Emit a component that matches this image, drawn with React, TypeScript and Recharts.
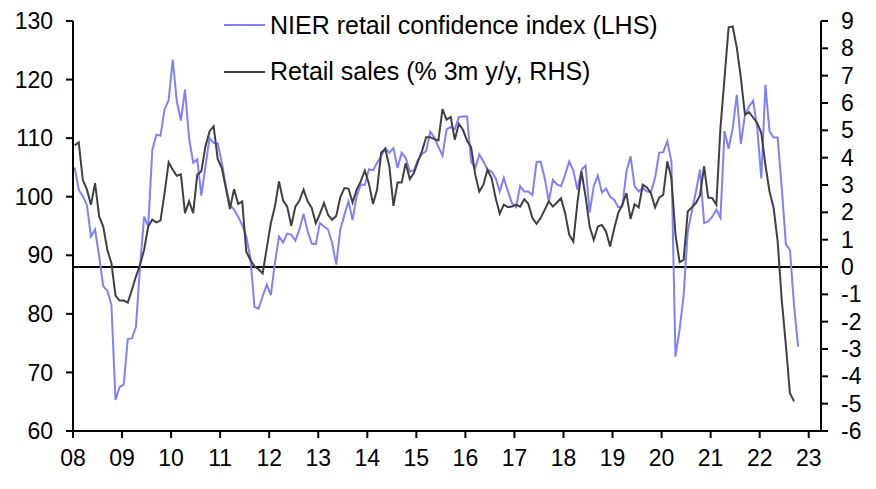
import {
  Line,
  LineChart,
  ReferenceLine,
  XAxis,
  YAxis,
} from 'recharts'

// monthly, Jan 2008 onwards
const confidence = [
  105.0, 101.2, 100.1, 98.6, 93.2, 94.4, 89.8, 84.7, 84.0, 81.5, 65.3, 67.5,
  67.9, 75.7, 75.8, 77.8, 88.1, 96.6, 94.9, 108.0, 110.6, 110.4, 114.9, 116.5,
  123.4, 116.3, 113.0, 118.3, 110.0, 105.8, 106.4, 100.2, 105.2, 110.0, 109.2, 109.1,
  105.8, 101.8, 98.6, 97.8, 96.6, 95.2, 93.2, 89.5, 81.2, 80.9, 83.0, 85.0,
  83.2, 88.7, 93.2, 92.2, 93.7, 93.5, 92.5, 94.4, 97.1, 94.1, 92.0, 91.9,
  95.5, 94.9, 94.4, 92.1, 88.4, 94.4, 96.9, 99.2, 96.0, 100.1, 102.1, 102.0,
  104.7, 104.5, 105.8, 106.9, 108.3, 107.5, 108.3, 104.9, 107.5, 106.6, 104.3, 104.5,
  106.3, 107.3, 107.8, 111.1, 110.1, 108.5, 107.0, 111.5, 111.9, 111.5, 113.6, 113.7,
  113.7, 106.0, 104.9, 107.2, 106.0, 104.6, 104.3, 103.2, 100.9, 103.2, 100.9, 98.9,
  98.2, 101.8, 100.9, 100.9, 100.3, 105.9, 106.0, 103.2, 99.2, 102.9, 102.1, 101.8,
  103.8, 106.0, 104.5, 101.2, 104.6, 105.3, 97.3, 101.8, 103.6, 100.7, 101.4, 100.0,
  99.5, 98.2, 98.3, 104.3, 106.9, 101.8, 100.9, 101.5, 100.9, 100.8, 103.2, 107.5,
  107.6, 109.5, 106.0, 72.7, 77.3, 83.2, 94.1, 97.5, 100.9, 104.6, 95.5, 95.8,
  96.6, 97.8, 96.4, 111.2, 108.2, 111.7, 117.4, 109.0, 114.0, 115.4, 116.4, 111.7,
  103.1, 119.1, 111.2, 110.1, 110.1, 101.5, 91.9, 90.9, 81.5, 74.4,
]

const retailSales = [
  4.45, 4.56, 3.19, 2.83, 2.28, 3.07, 1.85, 1.48, 0.63, 0.14, -1.05, -1.23,
  -1.23, -1.3, -0.84, -0.35, 0.08, 0.63, 1.48, 1.73, 1.63, 1.7, 2.7, 3.83,
  3.56, 3.34, 3.39, 1.97, 2.4, 1.97, 3.38, 3.5, 4.41, 4.96, 5.15, 3.95,
  3.62, 2.89, 2.12, 2.85, 2.31, 2.4, 0.56, 0.26, 0.02, -0.08, -0.23, 0.69,
  1.6, 2.21, 3.13, 2.43, 2.21, 1.51, 2.21, 2.43, 2.83, 2.4, 2.16, 1.6,
  1.94, 2.34, 1.91, 1.73, 1.87, 2.56, 2.89, 2.87, 2.36, 2.83, 3.13, 3.53,
  3.05, 2.31, 2.83, 4.19, 4.32, 3.68, 2.24, 3.09, 3.09, 3.8, 3.22, 3.44,
  3.86, 4.25, 4.75, 4.75, 4.68, 4.63, 5.78, 5.39, 5.49, 4.66, 5.24, 5.02,
  4.63, 4.39, 3.38, 2.76, 3.01, 3.56, 3.25, 2.52, 1.95, 2.28, 2.19, 2.21,
  2.28, 2.21, 2.48, 2.31, 1.79, 1.58, 1.79, 2.09, 2.4, 2.21, 2.36, 2.52,
  1.97, 1.18, 0.93, 2.34, 3.5, 2.58, 1.48, 0.99, 1.48, 1.54, 1.3, 0.75,
  1.4, 1.98, 2.28, 2.7, 1.76, 2.3, 2.18, 3.01, 2.91, 2.7, 2.18, 2.54,
  2.64, 3.86, 3.25, 1.18, 0.18, 0.26, 2.03, 2.18, 2.34, 2.62, 3.68, 2.54,
  2.52, 2.28, 5.09, 6.92, 8.77, 8.8, 8.02, 6.92, 5.57, 5.67, 5.47, 5.27,
  4.9, 3.74, 2.76, 2.18, 0.93, -1.21, -2.85, -4.62, -4.91,
]

const yearTicks = [
  2008, 2009, 2010, 2011, 2012, 2013, 2014, 2015, 2016, 2017, 2018, 2019, 2020,
  2021, 2022, 2023,
]
const leftTicks = [60, 70, 80, 90, 100, 110, 120, 130]
const rightTicks = [-6, -5, -4, -3, -2, -1, 0, 1, 2, 3, 4, 5, 6, 7, 8, 9]

const CONF_COLOR = '#8080ff'
const SALES_COLOR = '#404040'
const FONT = '"Liberation Sans", Arial, sans-serif'

const data = confidence.map((c, i) => ({
  t: 2008 + (i + 0.4) / 12,
  conf: c,
  sales: i < retailSales.length ? retailSales[i] : undefined,
}))

const legendItems = [
  { label: 'NIER retail confidence index (LHS)', color: CONF_COLOR },
  { label: 'Retail sales (% 3m y/y, RHS)', color: SALES_COLOR },
]

// drawn over the chart so it doesn't eat plot space
function ChartLegend() {
  return (
    <div
      style={{
        position: 'absolute',
        left: 224,
        top: 2,
        fontFamily: FONT,
        fontSize: 25,
        color: '#000',
        pointerEvents: 'none',
      }}
    >
      {legendItems.map((item) => (
        <div
          key={item.label}
          style={{ display: 'flex', alignItems: 'center', height: 46.5, whiteSpace: 'nowrap' }}
        >
          <span
            style={{
              display: 'inline-block',
              width: 41,
              height: 2,
              background: item.color,
              marginRight: 5,
            }}
          />
          <span>{item.label}</span>
        </div>
      ))}
    </div>
  )
}

const tickStyle = { fill: '#000', fontSize: 23, fontFamily: FONT }
const axisLine = { stroke: '#000', strokeWidth: 2 }

export default function App() {
  return (
    <div style={{ position: 'absolute', left: 0, top: 0, width: 876, height: 489, background: '#fff' }}>
      <LineChart
        width={876}
        height={489}
        data={data}
        margin={{ top: 21, right: 0, bottom: 0, left: 0 }}
      >
        <XAxis
          dataKey="t"
          type="number"
          domain={[2008, 2023.25]}
          ticks={yearTicks}
          tickFormatter={(v: number) => String(v).slice(2)}
          height={58}
          tickSize={7}
          tickMargin={12}
          tick={tickStyle}
          axisLine={axisLine}
          tickLine={axisLine}
          allowDataOverflow
        />
        <YAxis
          yAxisId="left"
          orientation="left"
          domain={[60, 130]}
          ticks={leftTicks}
          width={73}
          tickSize={7}
          tickMargin={13}
          tick={tickStyle}
          axisLine={axisLine}
          tickLine={axisLine}
          interval={0}
        />
        <YAxis
          yAxisId="right"
          orientation="right"
          domain={[-6, 9]}
          ticks={rightTicks}
          width={55}
          tickSize={7}
          tickMargin={13}
          tick={{ ...tickStyle, textAnchor: 'start' }}
          axisLine={axisLine}
          tickLine={axisLine}
          interval={0}
        />
        <ReferenceLine yAxisId="right" y={0} stroke="#000" strokeWidth={2} />
        <Line
          yAxisId="left"
          dataKey="conf"
          stroke={CONF_COLOR}
          strokeWidth={2}
          dot={false}
          type="linear"
          isAnimationActive={false}
        />
        <Line
          yAxisId="right"
          dataKey="sales"
          stroke={SALES_COLOR}
          strokeWidth={2}
          dot={false}
          type="linear"
          isAnimationActive={false}
        />
      </LineChart>
      <ChartLegend />
    </div>
  )
}
